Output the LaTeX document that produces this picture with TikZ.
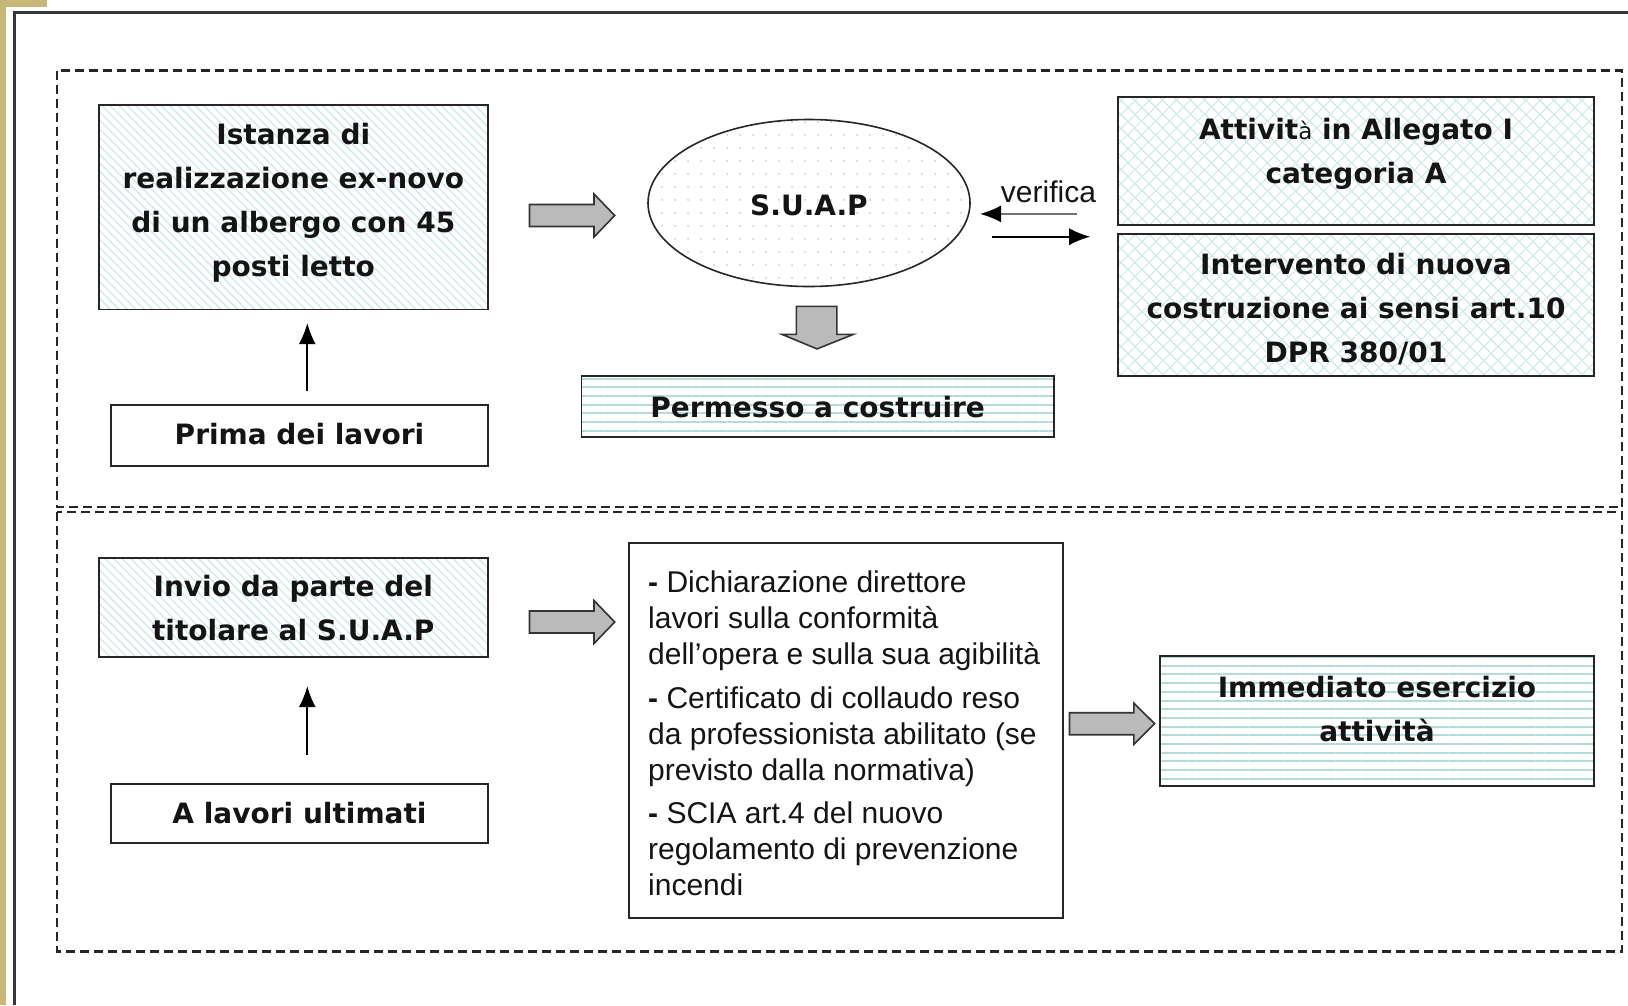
\documentclass[tikz,border=0pt]{standalone}
\usepackage{fontspec}
\setmainfont{DejaVu Sans}
\newfontfamily\arialf{Liberation Sans}
\usetikzlibrary{patterns.meta,arrows.meta,shapes.geometric,calc}
\definecolor{goldc}{RGB}{200,182,118}
\definecolor{hatchc}{RGB}{208,234,236}
\definecolor{linec}{RGB}{180,218,220}
\definecolor{framec}{RGB}{55,55,55}
\definecolor{txt}{RGB}{20,20,20}
\begin{document}
\begin{tikzpicture}[x=1pt,y=-1pt,
  box/.style={draw=black!85, line width=1.8pt, inner sep=0pt},
  diagfill/.style={pattern={Lines[angle=-45,distance=6pt,line width=1.3pt]}, pattern color=hatchc},
  crossfill/.style={pattern={Hatch[angle=45,distance=10.5pt,line width=1.3pt]}, pattern color=hatchc},
  hfill/.style={pattern={Lines[angle=0,distance=8.7pt,line width=2pt]}, pattern color=linec},
  dotfill/.style={pattern={Dots[distance=13pt,radius=1.1pt]}, pattern color=linec},
  btext/.style={font=\fontsize{28pt}{44pt}\selectfont\bfseries, align=center, text=txt, inner sep=0pt},
  atext/.style={font=\arialf\fontsize{30pt}{36pt}\selectfont, text=txt, inner sep=0pt},
  dashbox/.style={draw=black!85, line width=2.2pt, dash pattern=on 9pt off 5pt},
  blockarrow/.style={draw=black!80, fill=black!27, line width=1.6pt, line join=miter},
  thinarrow/.style={line width=1.8pt, -{Latex[length=21pt,width=17pt,fill=black,color=black]}}
]
\useasboundingbox (0,0) rectangle (1628,1005);
\fill[white] (0,0) rectangle (1628,1005);
% slide decoration
\fill[goldc] (0,0) rectangle (5.5,1005);
\fill[goldc] (0,0) rectangle (47,7);
\draw[framec, line width=2.5pt] (14.5,1005) -- (14.5,12.5) -- (1628,12.5);
% dashed areas
\draw[dashbox] (57,70.5) rectangle (1622,507);
\draw[dashbox] (57,512) rectangle (1622,951.5);

% ---- top section ----
\node[box, diagfill, minimum width=389.4pt, minimum height=204.5pt] (ist) at (293.3,207.2) {};
\node[btext] (istt) at (293.3,202.5) {Istanza di\\realizzazione ex-novo\\di un albergo con 45\\posti letto};
\node[box, minimum width=377pt, minimum height=61pt] (prima) at (299.5,435.5) {};
\node[btext] (primat) at (299.5,434) {Prima dei lavori};
\node[box, ellipse, dotfill, line width=1.6pt, minimum width=322pt, minimum height=167pt] (suap) at (809,203) {};
\node[btext] (suapt) at (809,205.6) {S.U.A.P};
\node[box, hfill, minimum width=472.5pt, minimum height=61.2pt] (perm) at (817.7,406.5) {};
\node[btext] (permt) at (817.7,407) {Permesso a costruire};
\node[box, crossfill, minimum width=476pt, minimum height=128.7pt] (att) at (1356,161) {};
\node[btext] (attt) at (1356,154) {Attivit{\mdseries\fontsize{23pt}{23pt}\selectfont à} in Allegato I\\categoria A};
\node[box, crossfill, minimum width=476pt, minimum height=142.3pt] (interv) at (1356,304.75) {};
\node[btext] (intervt) at (1356,309) {Intervento di nuova\\costruzione ai sensi art.10\\DPR 380/01};

\draw[thinarrow] ($(prima.north)+(7.8,-13)$) -- ($(ist.south -| prima.north)+(7.8,13)$);
% verifica arrows
\coordinate (v1s) at (1076.7,213.9);
\coordinate (v1e) at (980,213.9);
\coordinate (v2s) at (991.6,236.7);
\coordinate (v2e) at (1090.2,236.7);
\draw[thinarrow, draw=black!55] (v1s) -- (v1e);
\draw[thinarrow] (v2s) -- (v2e);
\node[atext] (verif) at (1048.5,192) {verifica};
% block arrows
\draw[blockarrow] (529.5,204.5) -- (594,204.5) -- (594,194) -- (614.7,215.5) -- (594,237) -- (594,226.5) -- (529.5,226.5) -- cycle;
\draw[blockarrow] (796.4,306.3) -- (836.9,306.3) -- (836.9,334.3) -- (853.5,334.3) -- (817,348.9) -- (781.8,334.3) -- (796.4,334.3) -- cycle;

% ---- bottom section ----
\node[box, diagfill, minimum width=389.4pt, minimum height=99.6pt] (invio) at (293.3,607.4) {};
\node[btext] (iniviot) at (293.3,608) {Invio da parte del\\titolare al S.U.A.P};
\node[box, minimum width=377pt, minimum height=59pt] (ult) at (299.5,813.5) {};
\node[btext] (ultt) at (299.5,813) {A lavori ultimati};
\draw[thinarrow] ($(ult.north)+(7.8,-28)$) -- ($(invio.south -| ult.north)+(7.8,28)$);
\node[box, minimum width=434pt, minimum height=375pt] (docs) at (846,730.5) {};
\node[atext, anchor=north west, align=left] (docst) at (648,571) {{\bfseries -} Dichiarazione direttore\\lavori sulla conformità\\dell’opera e sulla sua agibilità\\[7.5pt]{\bfseries -} Certificato di collaudo reso\\da professionista abilitato (se\\previsto dalla normativa)\\[7.5pt]{\bfseries -} SCIA art.4 del nuovo\\regolamento di prevenzione\\incendi};
\node[box, hfill, minimum width=434pt, minimum height=130pt] (imm) at (1377,721) {};
\node[btext] (immt) at (1377,708.6) {Immediato esercizio\\attività};
\draw[blockarrow] (529.5,611) -- (594,611) -- (594,600.5) -- (614.7,622) -- (594,643.5) -- (594,633) -- (529.5,633) -- cycle;
\draw[blockarrow] (1069.5,712.7) -- (1133.8,712.7) -- (1133.8,703) -- (1154.6,723.7) -- (1133.8,744.5) -- (1133.8,734.7) -- (1069.5,734.7) -- cycle;
\end{tikzpicture}
\end{document}
